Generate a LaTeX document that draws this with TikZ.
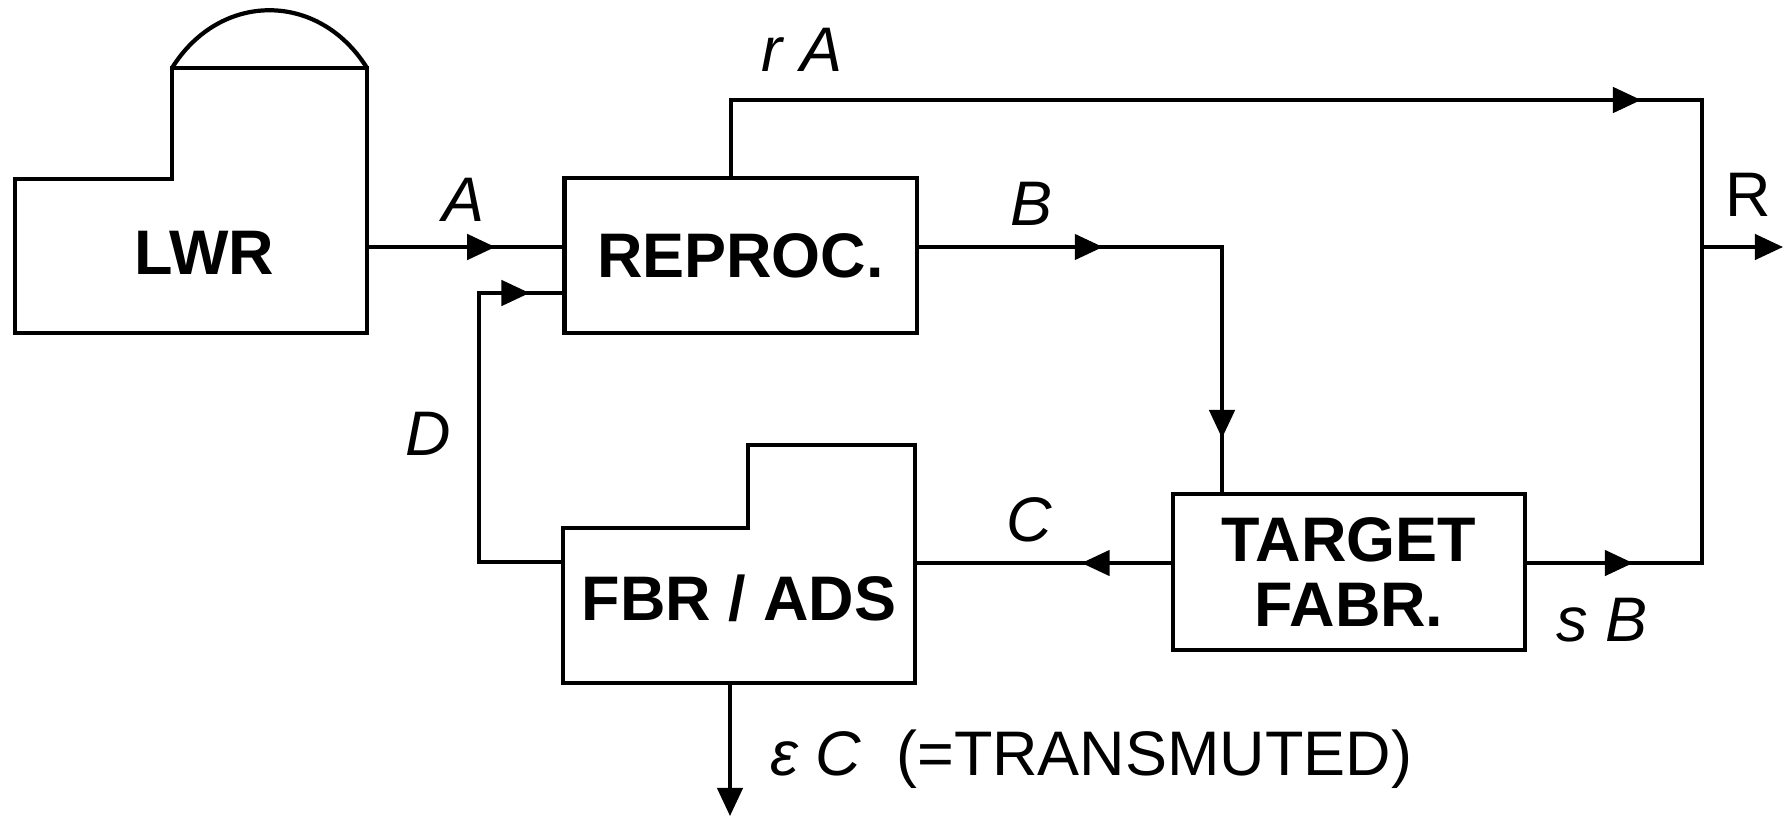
\documentclass[tikz,border=0pt]{standalone}
\usepackage{fontspec}
\setmainfont{Liberation Sans}
\usetikzlibrary{arrows.meta}
\usetikzlibrary{decorations.markings}

\tikzset{
  unit/.style={draw, line width=1.2pt, inner sep=0pt, align=center, minimum width=3.52cm, minimum height=1.55cm, font=\bfseries\fontsize{17.9}{18.5}\selectfont},
  unittext/.style={inner sep=0pt, font=\bfseries\fontsize{17.9}{18.5}\selectfont},
  shell/.style={line width=1.2pt},
  flow/.style={line width=1.05pt, line cap=rect},
  lbl/.style={inner sep=0pt, font=\itshape\fontsize{17.9}{18.5}\selectfont},
  flowtip/.tip={Triangle[length=8pt,width=7.2pt]},
  arrowat/.style={postaction={decorate, decoration={markings, mark=at position #1 with {\arrow{flowtip}}}}},
}

\begin{document}
\begin{tikzpicture}[x=0.01cm, y=-0.01cm]
\useasboundingbox (0,0) rectangle (1789,818);

\draw[shell] (15,179) -- (172,179) -- (172,68) -- (367,68) -- (367,333) -- (15,333) -- cycle;
\draw[shell] (172,68) .. controls (220,-9) and (319,-9) .. (367,68);
\node[unittext] (lwr) at (204,253) {LWR};

\node[unit] (reproc) at (740.5,255.5) {REPROC.};
\node[unit, minimum height=1.56cm] (target) at (1349,572) {TARGET\\FABR.};

\draw[shell] (563,528) -- (748,528) -- (748,445) -- (915,445) -- (915,683) -- (563,683) -- cycle;
\node[unittext] (fbr) at (739,598) {FBR / ADS};

\coordinate (lwrE) at (367,247);
\coordinate (fbrE) at (915,563);
\coordinate (fbrW) at (563,562);
\coordinate (fbrS) at (730,683);
\coordinate (rfork) at (731,100);
\coordinate (rtop) at (1702,100);
\coordinate (rjoin) at (1702,563);
\coordinate (rout) at (1783,247);
\coordinate (bturn) at (1222,247);
\coordinate (dcol) at (479,293);

\draw[flow, arrowat=0.657] (lwrE) -- (lwrE -| reproc.west);
\draw[flow, arrowat=0.653] (reproc.north -| rfork) -- (rfork) -- (rtop) -- (rjoin);
\draw[flow, arrowat=0.605] (target.east |- rjoin) -- (rjoin);
\draw[flow, -{flowtip}] (rtop |- rout) -- (rout);
\draw[flow, arrowat=0.336, arrowat=0.902] (reproc.east |- bturn) -- (bturn) -- (target.north -| bturn);
\draw[flow, arrowat=0.349] (target.west |- fbrE) -- (fbrE);
\draw[flow, arrowat=0.925] (fbrW) -| (dcol) -- (dcol -| reproc.west);
\draw[flow, -{flowtip}] (fbrS) -- ++(0,133);

\node[lbl] (labA) at (463,200) {A};
\node[lbl] (labrA) at (802,50) {r A};
\node[lbl] (labB) at (1031,204) {B};
\node[lbl, font=\fontsize{17.9}{18.5}\selectfont] (labR) at (1748,195) {R};
\node[lbl] (labC) at (1029,520) {C};
\node[lbl] (labD) at (428,434) {D};
\node[lbl] (labsB) at (1602,620) {s B};
\node[lbl, anchor=base west] (labeC) at (770,775) {ε C\ \ \upshape(=TRANSMUTED)};
\end{tikzpicture}
\end{document}
